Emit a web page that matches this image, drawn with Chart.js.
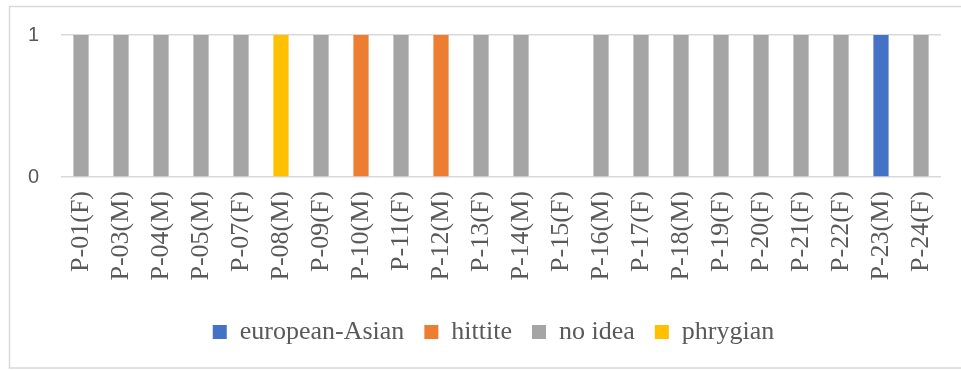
<!DOCTYPE html>
<html>
<head>
<meta charset="utf-8">
<script src="https://cdn.jsdelivr.net/npm/chart.js@4/dist/chart.umd.min.js"></script>
<style>
  html, body { margin: 0; padding: 0; background: #ffffff; }
  #wrap { width: 961px; height: 370px; position: relative; }
</style>
</head>
<body>
<div id="wrap"><canvas id="c" width="961" height="370"></canvas></div>
<script>
// Participants and the origin each one named
const participants = [
  'P-01(F)', 'P-03(M)', 'P-04(M)', 'P-05(M)', 'P-07(F)', 'P-08(M)', 'P-09(F)',
  'P-10(M)', 'P-11(F)', 'P-12(M)', 'P-13(F)', 'P-14(M)', 'P-15(F)', 'P-16(M)',
  'P-17(F)', 'P-18(M)', 'P-19(F)', 'P-20(F)', 'P-21(F)', 'P-22(F)', 'P-23(M)', 'P-24(F)'
];
const europeanAsian = [0,0,0,0,0,0,0,0,0,0,0,0,0,0,0,0,0,0,0,0,1,0];
const hittite       = [0,0,0,0,0,0,0,1,0,1,0,0,0,0,0,0,0,0,0,0,0,0];
const noIdea        = [1,1,1,1,1,0,1,0,1,0,1,1,0,1,1,1,1,1,1,1,0,1];
const phrygian      = [0,0,0,0,0,1,0,0,0,0,0,0,0,0,0,0,0,0,0,0,0,0];
const yTicks = [0, 1];

const serif = "'Liberation Serif', 'Times New Roman', serif";
const sans = "'Liberation Sans', Arial, sans-serif";
const textColor = '#595959';

// Light frame around the whole chart
const frame = {
  id: 'frame',
  beforeDraw(chart) {
    const ctx = chart.ctx;
    ctx.save();
    ctx.fillStyle = '#ffffff';
    ctx.fillRect(0, 0, chart.width, chart.height);
    ctx.strokeStyle = '#d9d9d9';
    ctx.lineWidth = 1.5;
    ctx.strokeRect(9.5, 6.5, 960, 361.5);
    ctx.restore();
  }
};

const mk = (label, data, color) => ({
  label, data, backgroundColor: color, borderWidth: 0,
  categoryPercentage: 1.0, barPercentage: 0.38
});

new Chart(document.getElementById('c'), {
  type: 'bar',
  data: {
    labels: participants,
    datasets: [
      mk('european-Asian', europeanAsian, '#4472C4'),
      mk('hittite', hittite, '#ED7D31'),
      mk('no idea', noIdea, '#A5A5A5'),
      mk('phrygian', phrygian, '#FFC000')
    ]
  },
  options: {
    responsive: false,
    animation: false,
    layout: { padding: { left: 26, right: 0, top: 35, bottom: 15 } },
    plugins: {
      legend: {
        position: 'bottom',
        labels: {
          boxWidth: 14, boxHeight: 14, padding: 20,
          color: textColor,
          font: { family: serif, size: 26 }
        }
      },
      tooltip: { enabled: false }
    },
    scales: {
      x: {
        stacked: true,
        grid: { display: false, drawTicks: false },
        border: { display: false },
        ticks: {
          color: textColor, font: { family: serif, size: 26 },
          minRotation: 90, maxRotation: 90, padding: 14, autoSkip: false
        },
        afterFit(scale) {
          scale.height = 122;
          scale.paddingLeft = 0;
          scale.paddingRight = 20;
        }
      },
      y: {
        stacked: true,
        min: 0, max: 1,
        afterBuildTicks(scale) { scale.ticks = yTicks.map(v => ({ value: v })); },
        grid: { color: '#d9d9d9', lineWidth: 1.5, drawTicks: false },
        border: { display: false },
        ticks: { color: textColor, font: { family: sans, size: 20 }, padding: 22 },
        afterFit(scale) { scale.width = 35; }
      }
    }
  },
  plugins: [frame]
});
</script>
</body>
</html>
